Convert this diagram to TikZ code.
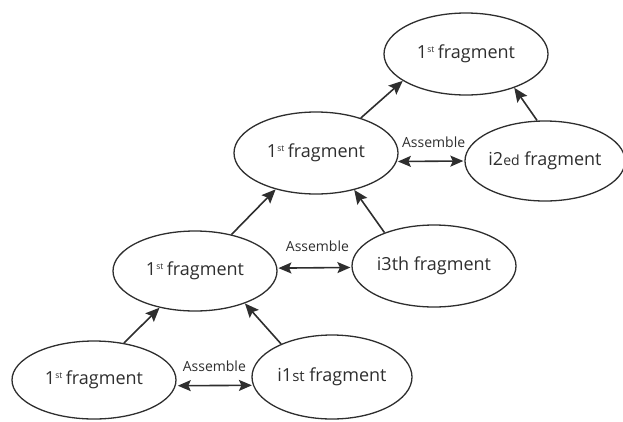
\documentclass[tikz,border=0pt]{standalone}
\usepackage{fontspec}
\setmainfont{Open Sans}
\usetikzlibrary{shapes.geometric,arrows.meta}
\definecolor{ink}{HTML}{2e2e2e}
\tikzset{
  frag/.style={ellipse, draw=ink, line width=1.3pt, inner sep=0pt, text=ink,
    font=\fontsize{18}{20}\selectfont},
  arr/.style={draw=ink, line width=1.6pt, -{Stealth[length=14pt,width=12pt,inset=2.5pt]}},
  darr/.style={draw=ink, line width=1.6pt, {Stealth[length=13pt,width=11pt,inset=2.5pt]}-{Stealth[length=13pt,width=11pt,inset=2.5pt]}},
  lab/.style={text=ink, font=\fontsize{14}{15}\selectfont, inner sep=0pt}
}
\newcommand{\fst}{1\textsuperscript{\fontsize{8.5}{8.5}\selectfont st}\,fragment}
\begin{document}
\begin{tikzpicture}[x=1pt,y=-1pt]
\useasboundingbox (0,0) rectangle (623,421);
\node[frag, minimum width=164pt, minimum height=78pt] (A1) at (94,380) {\fst};
\node[frag, minimum width=160pt, minimum height=84pt] (B1) at (332,377) {i1{\fontsize{15}{15}\selectfont st} fragment};
\node[frag, minimum width=164pt, minimum height=80pt] (A2) at (195,271) {\fst};
\node[frag, minimum width=164pt, minimum height=82pt] (B2) at (434,266) {i3th fragment};
\node[frag, minimum width=164pt, minimum height=82pt] (A3) at (316,153) {\fst};
\node[frag, minimum width=154pt, minimum height=80pt] (B3) at (545,161) {i2{\fontsize{14}{14}\selectfont ed} fragment};
\node[frag, minimum width=164pt, minimum height=82pt] (T) at (466,54) {\fst};

\draw[arr] (A1.51) -- (A2.226);
\draw[arr] (B1.147) -- (A2.-33);
\draw[darr, shorten <=2pt, shorten >=1pt] (A1.-4) -- (B1.186) node[lab, midway, yshift=19pt] (L1) {Assemble};

\draw[arr] (A2.45) -- (A3.222);
\draw[arr] (B2.146) -- (A3.-44);
\draw[darr, shorten <=1pt, shorten >=1pt] (A2.2) -- (B2.181) node[lab, midway, yshift=22pt, xshift=3pt] (L2) {Assemble};

\draw[arr] (A3.38) -- (T.203);
\draw[arr] (B3.101) -- (T.-35);
\draw[darr, shorten <=1pt, shorten >=1pt] (A3.-6) -- (B3.180) node[lab, midway, yshift=19pt, xshift=3pt] (L3) {Assemble};
\end{tikzpicture}
\end{document}
